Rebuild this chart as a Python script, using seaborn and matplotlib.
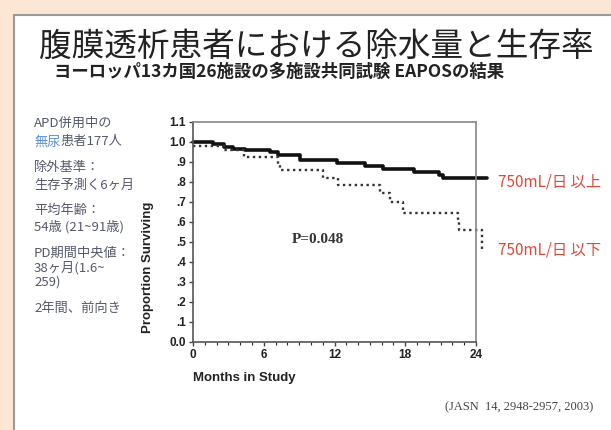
import seaborn as sns
import matplotlib.pyplot as plt
from matplotlib.patches import Rectangle
from matplotlib.ticker import MultipleLocator

# survival steps (months, proportion surviving)
months_hi = [0, 1.7, 2.6, 3.4, 4.4, 6.5, 7.2, 9.1, 12.2, 14.6, 16.1, 18.7, 20.9, 21.2, 24.9]
surv_hi = [1.0, 0.99, 0.975, 0.965, 0.958, 0.95, 0.933, 0.912, 0.895, 0.88, 0.867, 0.85, 0.835, 0.822, 0.822]
months_lo = [0, 2.6, 4.3, 7.2, 7.4, 11.0, 12.3, 15.9, 16.7, 17.8, 22.5, 22.6, 24.5, 24.5]
surv_lo = [0.98, 0.958, 0.925, 0.89, 0.862, 0.82, 0.783, 0.745, 0.70, 0.645, 0.61, 0.562, 0.562, 0.45]

x_ticks = [0, 6, 12, 18, 24]
y_ticks = [0.0, 0.1, 0.2, 0.3, 0.4, 0.5, 0.6, 0.7, 0.8, 0.9, 1.0, 1.1]
y_tick_labels = ['0.0', '.1', '.2', '.3', '.4', '.5', '.6', '.7', '.8', '.9', '1.0', '1.1']

title = '腹膜透析患者における除水量と生存率'
subtitle = 'ヨーロッパ13カ国26施設の多施設共同試験 EAPOSの結果'
label_hi = '750mL/日 以上'
label_lo = '750mL/日 以下'
p_text = 'P=0.048'
citation = '(JASN  14, 2948-2957, 2003)'
notes = [
    ('APD併用中の', 123),
    ('除外基準：', 168),
    ('生存予測く6ヶ月', 185),
    ('平均年齢：', 210),
    ('54歳 (21~91歳)', 227),
    ('PD期間中央値：', 253),
    ('38ヶ月(1.6~', 268),
    ('259)', 282),
    ('2年間、前向き', 308),
]

W, H = 611, 430
sns.set_style('ticks')
plt.rcParams['font.family'] = ['Noto Sans CJK JP', 'DejaVu Sans']

fig = plt.figure(figsize=(W / 100, H / 100), dpi=100)
fig.patch.set_facecolor('#fde6d3')


def px(x, y):
    return x / W, 1 - y / H


# white slide panel
fig.patches.append(Rectangle(px(14, 440), 1.2, (440 - 15) / H, transform=fig.transFigure,
                             facecolor='white', edgecolor='#9a9a9a', linewidth=1.5, zorder=-1))

ax = fig.add_axes([193 / W, 1 - 342 / H, (476 - 193) / W, (342 - 122) / H])
ax.set_facecolor('none')

sns.lineplot(x=months_hi, y=surv_hi, ax=ax, color='#111111', linewidth=2.6,
             drawstyle='steps-post', estimator=None, sort=False, clip_on=False)
sns.lineplot(x=months_lo, y=surv_lo, ax=ax, color='#333333', linewidth=1.7,
             linestyle=(0, (1.0, 1.5)), drawstyle='steps-post', estimator=None,
             sort=False, clip_on=False)

ax.set_xlim(0, 24)
ax.set_ylim(0, 1.1)
ax.set_xticks(x_ticks)
ax.xaxis.set_minor_locator(MultipleLocator(1))
ax.set_yticks(y_ticks)
ax.set_yticklabels(y_tick_labels)
for lab in ax.get_xticklabels() + ax.get_yticklabels():
    lab.set_family('Liberation Sans')
    lab.set_fontweight('bold')
    lab.set_fontsize(8.5)
    lab.set_color('#222222')
ax.tick_params(axis='both', length=3, width=1, color='#444444', pad=2)
ax.tick_params(axis='x', which='minor', length=2, width=0.8)
for side in ['left', 'bottom', 'top', 'right']:
    ax.spines[side].set_visible(True)
    ax.spines[side].set_color('#555555')
    ax.spines[side].set_linewidth(1.2)
ax.spines['top'].set_color('#888888')
ax.spines['right'].set_color('#888888')
ax.set_xlabel('')
ax.set_ylabel('')

fig.text(*px(148, 267), 'Proportion Surviving', rotation=90, ha='center', va='center',
         family='Liberation Sans', fontweight='bold', fontsize=9.5, color='#222222')
fig.text(*px(193, 378), 'Months in Study', ha='left', va='center',
         family='Liberation Sans', fontweight='bold', fontsize=9.5, color='#222222')

ax.text(10.6, 0.51, p_text, ha='center', va='center', family='Liberation Serif',
        fontweight='bold', fontsize=11, color='#333333')

fig.text(*px(498, 182), label_hi, ha='left', va='center', fontsize=11, color='#e0483a')
fig.text(*px(498, 250), label_lo, ha='left', va='center', fontsize=11, color='#e0483a')

fig.text(*px(316, 47), title, ha='center', va='center', fontsize=23.5, color='#222222')
fig.text(*px(279, 72), subtitle, ha='center', va='center', fontsize=12.5,
         fontweight='bold', color='#222222')

note_color = '#55596a'
for text, y in notes:
    fig.text(*px(34, y), text, ha='left', va='center', fontsize=9.5, color=note_color)
fig.text(*px(34, 142), '無尿', ha='left', va='center', fontsize=9.5, color='#5b8fd6')
fig.text(*px(34 + 26.5, 142), '患者177人', ha='left', va='center', fontsize=9.5, color=note_color)

fig.text(*px(593, 407), citation, ha='right', va='center', family='Liberation Serif',
         fontsize=9, color='#444444')

fig.savefig('out.png', dpi=100, facecolor=fig.get_facecolor())
